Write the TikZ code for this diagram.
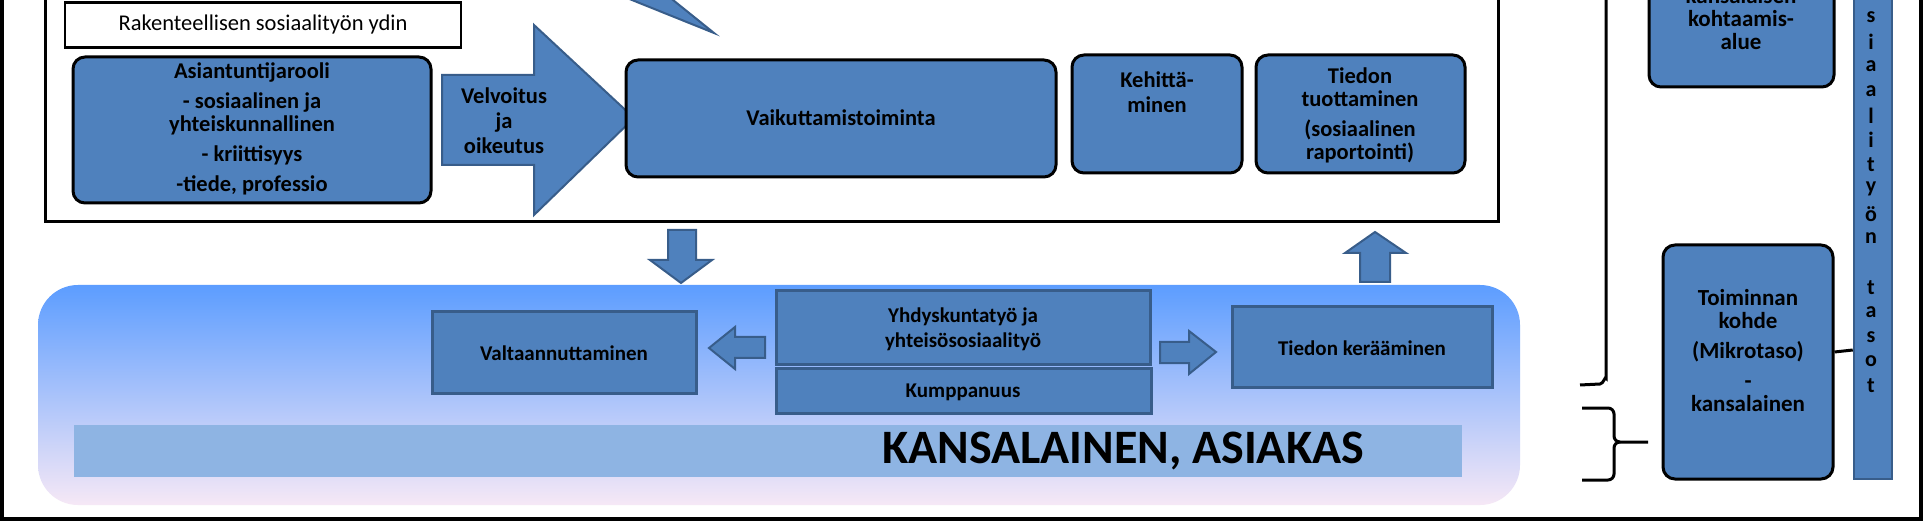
\documentclass[tikz,border=0pt]{standalone}
\usepackage{fontspec}
\setmainfont{Carlito}
\definecolor{myblue}{HTML}{4F81BD}
\definecolor{mydark}{HTML}{385D8A}
\definecolor{gtop}{HTML}{5C9DFF}
\definecolor{gmid}{HTML}{92BFF5}
\definecolor{gbot}{HTML}{F6E8F6}
\definecolor{band}{HTML}{8EB4E3}
\newcommand{\boxnode}[6]{\node[#1,minimum width={(#5)-(#3)},minimum height={(#6)-(#4)}] (#2) at ({((#3)+(#5))/2},{((#4)+(#6))/2}) {};}
\begin{document}
\begin{tikzpicture}[x=1pt,y=-1pt,
  topbox/.style={draw=black,line width=3pt,fill=myblue,rounded corners=12pt,inner sep=0pt},
  lowbox/.style={draw=mydark,line width=3pt,fill=myblue,inner sep=0pt},
  txt/.style={font=\bfseries\fontsize{22.5}{23}\selectfont,align=center,inner sep=0pt},
  ltxt/.style={font=\bfseries\fontsize{21}{25}\selectfont,align=center,inner sep=0pt},
  arr/.style={fill=myblue,draw=mydark,line width=2pt,line join=miter}]
\useasboundingbox (0,0) rectangle (1924,526);
\clip (0,0) rectangle (1924,526);
\fill[white] (0,0) rectangle (1924,526);
% outer frame and core
\draw[line width=4pt] (2,-20) rectangle (1921,519);
\draw[line width=3pt] (45,-20) rectangle (1498,222);
% title box
\node[draw=black,line width=2.5pt,fill=white,minimum width=396,minimum height=45,font=\fontsize{22.5}{24}\selectfont] (title) at (263,25) {Rakenteellisen sosiaalityön ydin};
% top wedge
\filldraw[arr] (622,-4) -- (714,33) -- (668,-4) -- cycle;
% top boxes
\boxnode{topbox}{asi}{73}{57}{431}{203}
\node[txt] (asit) at (252,129) {Asiantuntijarooli\\[7pt]- sosiaalinen ja\\yhteiskunnallinen\\[7pt]- kriittisyys\\[7pt]-tiede, professio};
\filldraw[arr] (442,75) -- (534,75) -- (534,25) -- (634,118) -- (534,215) -- (534,165) -- (442,165) -- cycle;
\node[txt,font=\bfseries\fontsize{22.5}{25}\selectfont] (velv) at (504,121) {Velvoitus\\ja\\oikeutus};
\boxnode{topbox}{vai}{626}{60}{1056}{177}
\node[txt] (vait) at (841,118) {Vaikuttamistoiminta};
\boxnode{topbox}{keh}{1072}{55}{1242}{173}
\node[txt] (keht) at (1157,92) {Kehittä-\\[2pt]minen};
\boxnode{topbox}{tie}{1256}{55}{1465}{173}
\node[txt] (tiet) at (1360,115) {Tiedon\\tuottaminen\\[7pt](sosiaalinen\\raportointi)};
% vertical arrows
\filldraw[arr] (668,230) -- (696,230) -- (696,260) -- (712,260) -- (681,283) -- (650,260) -- (668,260) -- cycle;
\filldraw[arr] (1360,282) -- (1390,282) -- (1390,253) -- (1406,253) -- (1375,232) -- (1345,253) -- (1360,253) -- cycle;
% gradient area
\shade[top color=gtop,middle color=gmid,bottom color=gbot,rounded corners=40pt] (38,285) rectangle (1520,505);
\fill[band] (74,425) rectangle (1462,477);
\node[font=\bfseries\fontsize{48}{50}\selectfont,inner sep=0pt] (kans) at (1123,451) {KANSALAINEN, ASIAKAS};
% lower boxes
\boxnode{lowbox}{yhd}{776}{291}{1150}{364}
\node[ltxt] (yhdt) at (963,329) {Yhdyskuntatyö ja\\yhteisösosiaalityö};
\boxnode{lowbox}{kum}{776}{368}{1151}{413}
\node[ltxt] (kumt) at (963,392) {Kumppanuus};
\boxnode{lowbox}{val}{432}{312}{696}{393}
\node[ltxt] (valt) at (564,353) {Valtaannuttaminen};
\boxnode{lowbox}{ker}{1232}{307}{1492}{387}
\node[ltxt] (kert) at (1362,348) {Tiedon kerääminen};
\filldraw[arr] (709,348) -- (735,327) -- (735,337) -- (765,337) -- (765,358) -- (735,358) -- (735,369) -- cycle;
\filldraw[arr] (1216,352) -- (1189,331) -- (1189,342) -- (1160,342) -- (1160,363) -- (1189,363) -- (1189,374) -- cycle;
% right side
\coordinate (bt) at (1606,-20);
\coordinate (bb) at (1580,385);
\draw[line width=3pt] (bt) -- (1606,378) to[out=90,in=0] (1600,384) -- (bb);
\coordinate (b1) at (1582,408);
\coordinate (b2) at (1582,480);
\coordinate (bp) at (1648,442);
\draw[line width=3pt] (b1) -- (1608,408) to[out=0,in=90] (1614,414) -- (1614,436) to[out=-90,in=180] (1620,442) -- (bp);
\draw[line width=3pt] (1620,442) to[out=180,in=90] (1614,448) -- (1614,474) to[out=-90,in=0] (1608,480) -- (b2);
\boxnode{topbox}{koh}{1649}{-40}{1834}{87}
\node[txt,font=\bfseries\fontsize{23}{23}\selectfont] (koht) at (1741,19) {kansalaisen\\kohtaamis-\\alue};
\boxnode{topbox}{toi}{1663}{245}{1833}{479}
\node[txt,font=\bfseries\fontsize{23}{23}\selectfont] (toit) at (1748,351) {Toiminnan\\kohde\\[7pt](Mikrotaso)\\[7pt]-\\kansalainen};
\node[draw=mydark,line width=2.5pt,fill=myblue,minimum width=38,minimum height=520,inner sep=0pt] (bar) at (1873,219) {};
\draw[line width=3pt] (toi.east |- 0,352) -- (bar.west |- 0,350);
\foreach \l [count=\i] in {s,i,a,a,l,i,t,y,ö,n,{},t,a,s,o,t}{
  \node[font=\bfseries\fontsize{22}{22}\selectfont,inner sep=0pt] (let\i) at (1871,{17+(\i-1)*24.6}) {\l};
}
\end{tikzpicture}
\end{document}
